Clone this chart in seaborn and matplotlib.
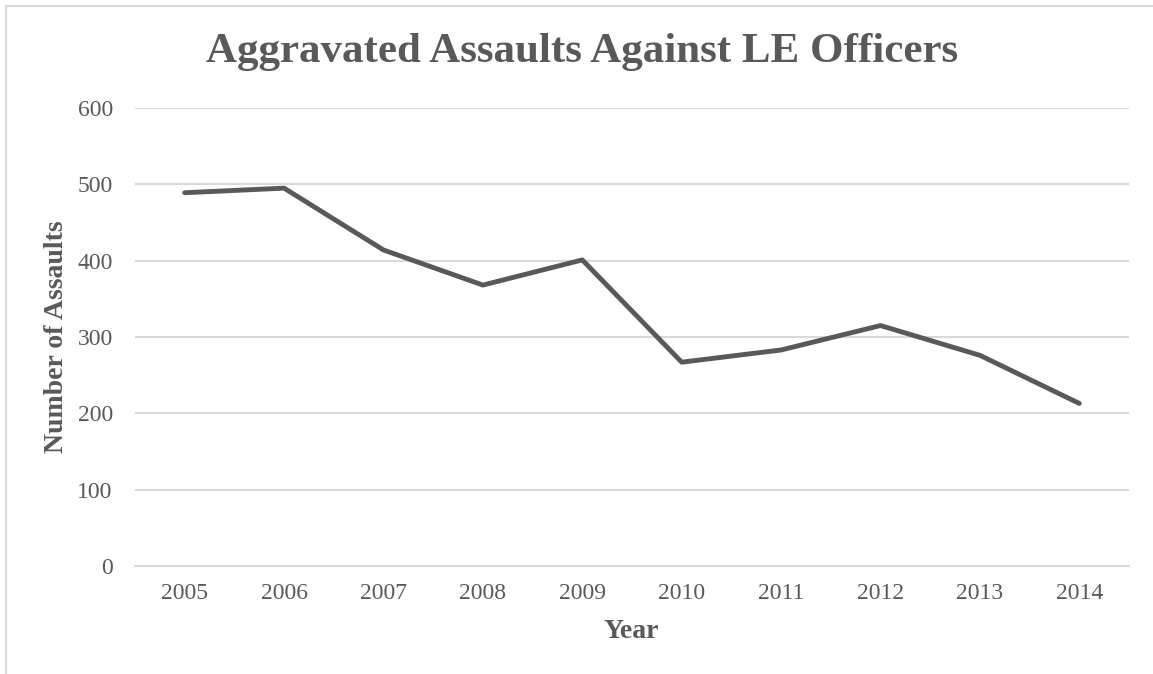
import matplotlib
matplotlib.use("Agg")
import matplotlib.pyplot as plt
from matplotlib.patches import Rectangle
import seaborn as sns
import numpy as np

years = ["2005", "2006", "2007", "2008", "2009", "2010", "2011", "2012", "2013", "2014"]
assaults = [489, 495, 414, 368, 401, 267, 283, 315, 276, 213]
y_ticks = [0, 100, 200, 300, 400, 500, 600]

text_color = "#595959"
grid_color = "#d9d9d9"

sns.set_theme(style="white")
plt.rcParams["font.family"] = ["Liberation Serif", "DejaVu Serif"]

fig = plt.figure(figsize=(11.53, 6.74), dpi=100)
ax = fig.add_axes([135 / 1153, 1 - 566 / 674, (1129 - 135) / 1153, (566 - 108) / 674])

# chart area border (cut off at right and bottom like the source)
fig.add_artist(Rectangle((6 / 1153, -0.5), 2, 1.5 - 6 / 674, transform=fig.transFigure,
                         fill=False, edgecolor=grid_color, linewidth=1.5))

# gridlines
for v in y_ticks[1:]:
    ax.axhline(v, color=grid_color, linewidth=1.5, zorder=0)

sns.lineplot(x=years, y=assaults, ax=ax, color=text_color, linewidth=3.5,
             solid_capstyle="round", solid_joinstyle="round", zorder=3)

ax.set_xlim(-0.5, len(years) - 0.5)
ax.set_ylim(0, 600)
ax.set_yticks(y_ticks)
ax.set_yticklabels([str(v) for v in y_ticks])
ax.set_xticks(np.arange(len(years)))
ax.set_xticklabels(years)
ax.set_xticks(np.arange(len(years) + 1) - 0.5, minor=True)

for side in ["top", "right", "left"]:
    ax.spines[side].set_visible(False)
ax.spines["bottom"].set_color(grid_color)
ax.spines["bottom"].set_linewidth(1.5)

ax.tick_params(axis="x", which="major", length=0, pad=12, labelsize=17, labelcolor=text_color)
ax.tick_params(axis="x", which="minor", length=6, width=1.5, color=grid_color, direction="out")
ax.tick_params(axis="y", length=0, pad=16, labelsize=17, labelcolor=text_color)

ax.set_xlabel("Year", fontsize=20, fontweight="bold", color=text_color, va="center")
ax.set_ylabel("Number of Assaults", fontsize=20, fontweight="bold", color=text_color, va="center")
ax.xaxis.set_label_coords((631 - 135) / 994, (566 - 632) / 458)
ax.yaxis.set_label_coords((57 - 135) / 994, 0.5)

fig.text(0.505, 1 - 52 / 674, "Aggravated Assaults Against LE Officers", ha="center", va="center",
         fontsize=31, fontweight="bold", color=text_color)

fig.savefig("out.png", dpi=100)
